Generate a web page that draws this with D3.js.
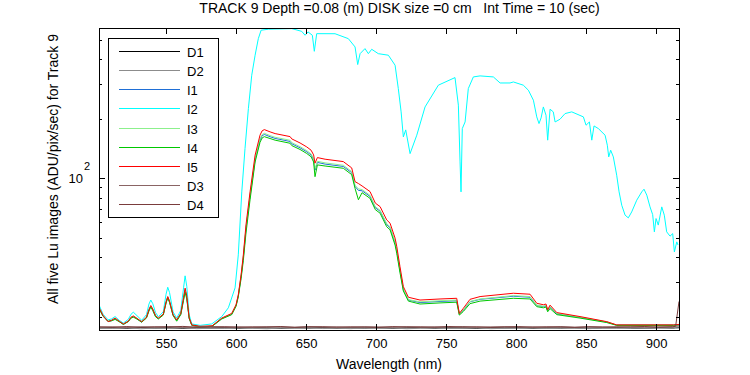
<!DOCTYPE html>
<html><head><meta charset="utf-8">
<script src="https://cdn.jsdelivr.net/npm/d3@7"></script>
<style>
html,body{margin:0;padding:0;background:#fff;}
text{font-family:"Liberation Sans",Arial,Helvetica,sans-serif;}
</style></head>
<body><svg id="c" width="750" height="375"></svg>
<script>
// ---- data ----
const wl = [502.1,505,508.6,511,513.6,516.5,519.5,523,525,526.6,528.5,532.6,536,537.8,539.1,540.5,542.5,544.5,548,550,551.2,552.5,555,557.6,560.5,562.5,563.6,564.8,566.5,568.4,574.3,582.9,589.8,596.9,600,601.6,603.6,605.2,607.1,610,613.6,617.1,618.6,620.2,624.3,627.9,638.6,639.8,645.7,650.5,653.6,655.4,656.4,658.1,663.6,676.6,682.6,685,687.4,690,695.7,699.5,702.9,707.6,710,713.6,714.8,717.1,719.5,723.1,731.4,745.7,757.6,759.5,762.4,767.1,774.3,798.1,810,814.8,819.5,821.4,822.6,824.3,829.1,845.7,864.8,871.9,912.4,916.4];
const I5 = [22.3,20.3,18.9,19.2,19.7,19.0,18.4,19.0,19.9,20.2,19.8,18.9,19.9,21.8,22.8,21.9,20.3,19.7,20.6,23.8,25.3,24.0,20.5,19.3,20.8,25.0,27.9,25.5,19.8,18.2,17.9,18.0,19.7,20.8,23.0,25.8,32.6,41.1,58.2,85.5,131,165.3,173.8,176.4,171.8,168.4,162.6,158.3,151,144.2,138.8,131.4,119.4,127.4,125,121.6,113,96.3,94.2,91.6,85.8,75.0,72.0,61.7,59.4,49.9,45.3,35.8,28.4,25.1,24.3,24.6,24.8,20.8,22.1,24.5,25.3,26.3,26.0,23.4,23.0,23.2,21.7,22.9,21.0,20.05,18.9,18.2,18.2,18.3];
const I4 = [22.0,20.1,19.0,19.1,19.4,18.9,18.3,18.9,19.7,19.9,19.6,18.8,19.7,21.4,22.4,21.5,20.0,19.5,20.4,23.4,24.9,23.6,20.3,19.0,20.5,24.2,26.6,24.6,19.6,18.1,17.8,17.9,19.5,20.5,22.6,25.2,31.2,38.5,53,78,121,152,160,162.5,159,156,150.5,146.5,140,133.6,128.6,121,102,117,115.5,112.5,104.5,89,78,84.7,79.3,69.5,66.7,57,55,46,41.8,33.4,27.0,24.0,23.2,23.5,23.7,20.4,21.3,23.3,24.0,24.8,24.6,22.5,22.2,22.4,21.2,22.0,20.5,19.7,18.7,18.1,18.1,18.2];
const I1 = [22.1,20.2,18.9,19.1,19.5,18.95,18.3,18.95,19.8,20.0,19.7,18.8,19.8,21.6,22.6,21.7,20.1,19.6,20.5,23.6,25.1,23.8,20.4,19.2,20.6,24.6,27.3,25.0,19.7,18.1,17.8,17.9,19.6,20.6,22.8,25.5,31.9,39.7,55.5,81.3,124,156,164.2,166.7,162.4,159.2,153.7,149.6,142.7,136.3,131.2,124.2,110,120.4,118.1,114.9,106.8,91,87,86.6,81.1,71,68.3,58.4,56.3,47.3,43,34.2,27.4,24.3,23.6,23.9,24.1,20.6,21.6,23.8,24.5,25.4,25.1,22.8,22.5,22.7,21.4,22.4,20.7,19.85,18.8,18.15,18.15,18.25];
const I3 = [22.2,20.25,18.9,19.15,19.6,18.95,18.35,18.95,19.85,20.1,19.75,18.85,19.85,21.7,22.7,21.8,20.2,19.65,20.55,23.7,25.2,23.9,20.45,19.25,20.7,24.8,27.5,25.2,19.75,18.15,17.85,17.95,19.65,20.7,22.9,25.6,32.2,40.2,56.3,82.4,125.5,158.4,166.5,169,164.6,161.3,155.8,151.6,144.7,138.1,133,125.9,112,122,119.8,116.5,108.3,92.3,88.5,87.8,82.2,71.9,69,59.1,57,47.8,43.4,34.4,27.6,24.4,23.8,24.1,24.3,20.6,21.7,23.9,24.6,25.6,25.3,22.9,22.6,22.8,21.5,22.5,20.8,19.9,18.85,18.15,18.15,18.25];

const wlI2 = [502.1,505,508.6,511,513.6,516.5,519.5,523,525,526.6,528.5,532.6,536,537.8,539.1,540.5,542.5,544.5,548,550,551.2,552.5,555,557.6,560.5,562.5,563.6,564.8,566.5,568.4,574.3,582.6,589.8,594.5,599.3,601.6,604.1,606.4,608.8,611.2,613.6,615.9,617.9,623.1,639.8,646.9,649.3,651.4,654.5,655.9,657.6,670.7,680.2,685,686.9,688.6,692.1,694.5,696.9,701.6,708.8,713.6,715.9,717.9,719.5,721.2,724.3,729.1,735,744.5,756.4,758.8,760,760.7,761.6,763.6,765.9,769.5,774.3,783.8,788.6,795.7,798.1,805.2,808.8,812.4,814.8,816.4,817.9,819.5,821.4,822.6,824.3,826.6,827.9,831.4,835,839.8,848.1,850,852.4,854.1,855.7,858.8,863.6,865.2,866.2,867.6,869.5,871.9,873.6,875.5,877.9,880.2,882.6,886.2,889.8,891.4,893.4,895.7,897.6,898.8,900,901.6,904.1,905.9,907.6,910,911.9,913.1,914.8,915.7];
const I2 = [22.96,20.6,19.3,19.5,20.05,19.2,18.6,19.4,20.6,21.1,20.5,19.2,20.5,23.2,24.3,23.3,21.0,20.0,21.2,26.0,28.2,26.5,21.2,19.7,21.5,28.0,32.2,28.5,20.5,18.4,18.1,18.4,20.05,22.2,28.0,41.1,85.5,141.5,225.2,332,419,508,560.4,567,571,553,528.5,549.5,528.5,438.5,538.3,538,508,461.3,375.8,426.6,452.4,426.6,449,426.6,419,373,284.2,216.8,162,175.8,133.4,165.3,229.6,295.7,323,234.4,121.1,85.5,178.5,192.8,284.2,325.5,329.4,325.5,303.4,303.4,307,295.7,279,248.3,204.5,189.2,202.1,229.6,208.5,156,223.6,216.8,192.8,199,212.5,216.8,204.5,185.6,192.8,156,184.1,178.5,165.3,147.1,128.4,138.8,128.4,103.8,85.5,73.2,65.2,63.2,67.7,77.6,85.5,88.2,82.3,71.8,65.6,53.7,62.7,58.1,71.8,65.2,53.7,51.1,52.6,42.5,47.8,46.1];

const darkWl = [502,512,522,532,542,552,562,572,582,592,602,612,622,632,642,652,662,672,682,692,702,712,722,732,742,752,762,772,782,792,802,812,822,832,842,852,862,872,882,892,902,912,914,916.4];
const D1 = [17.55,17.6,17.5,17.62,17.55,17.58,17.5,17.6,17.55,17.62,17.52,17.6,17.56,17.5,17.6,17.55,17.62,17.5,17.58,17.55,17.6,17.5,17.57,17.62,17.52,17.6,17.55,17.5,17.6,17.56,17.62,17.5,17.58,17.55,17.6,17.52,17.58,17.6,17.55,17.5,17.6,17.55,17.58,17.6];
const D2 = [17.5,17.45,17.6,17.4,17.55,17.48,17.62,17.42,17.5,17.45,17.6,17.48,17.4,17.55,17.5,17.62,17.44,17.5,17.42,17.6,17.48,17.55,17.4,17.5,17.58,17.45,17.5,17.6,17.42,17.5,17.48,17.55,17.45,17.6,17.5,17.42,17.55,17.5,17.6,17.48,17.55,17.62,17.7,17.8];
const D3 = [17.7,17.78,17.65,17.8,17.72,17.85,17.68,17.75,17.82,17.7,17.78,17.66,17.8,17.74,17.7,17.85,17.72,17.78,17.68,17.8,17.75,17.7,17.82,17.68,17.78,17.72,17.85,17.7,17.76,17.8,17.7,17.78,17.72,17.84,17.7,17.76,17.68,17.8,17.74,17.7,17.78,17.82,17.9,18.0];
const D4 = [17.8,17.72,17.85,17.7,17.8,17.75,17.88,17.7,17.78,17.82,17.72,17.8,17.76,17.86,17.7,17.78,17.82,17.72,17.8,17.75,17.7,17.84,17.76,17.8,17.72,17.86,17.74,17.8,17.7,17.78,17.84,17.72,17.8,17.76,17.7,17.82,17.78,17.74,17.8,17.86,17.72,17.8,17.9,23.9];

const seriesNames = ["D1","D2","I1","I2","I3","I4","I5","D3","D4"];
const seriesColors = ["#000000","#8c8c8c","#1f6fd6","#00ffff","#8cf08c","#00c800","#ff0000","#8a6464","#7a3c3c"];
const xTicks = [550,600,650,700,750,800,850,900];
const yMinorTicks = [20,30,40,50,60,70,80,90,200,300,400,500];
const yMajorTicks = [100];
const titleText = "TRACK 9 Depth =0.08 (m) DISK size =0 cm   Int Time = 10 (sec)";
const xLabel = "Wavelength (nm)";
const yLabel = "All five Lu images (ADU/pix/sec) for Track 9";

// ---- chart ----
const L=99, R=679, T=28, B=330;
const svg = d3.select("#c");
const x = d3.scaleLinear().domain([502.1,916.4]).range([L,R]);
const y = d3.scaleLog().domain([17.15,575]).range([B,T]);

const seriesData = {
  D1: darkWl.map((w,i)=>[w,D1[i]]),
  D2: darkWl.map((w,i)=>[w,D2[i]]),
  I1: wl.map((w,i)=>[w,I1[i]]),
  I2: wlI2.map((w,i)=>[w,I2[i]]),
  I3: wl.map((w,i)=>[w,I3[i]]),
  I4: wl.map((w,i)=>[w,I4[i]]),
  I5: wl.map((w,i)=>[w,I5[i]]),
  D3: darkWl.map((w,i)=>[w,D3[i]]),
  D4: darkWl.map((w,i)=>[w,D4[i]])
};

svg.append("defs").append("clipPath").attr("id","clip")
  .append("rect").attr("x",L).attr("y",T).attr("width",R-L).attr("height",B-T);

const line = d3.line().x(d=>x(d[0])).y(d=>y(d[1]));
const g = svg.append("g").attr("clip-path","url(#clip)");
seriesNames.forEach((n,i)=>{
  g.append("path").datum(seriesData[n]).attr("d",line)
   .attr("fill","none").attr("stroke",seriesColors[i]).attr("stroke-width",1);
});

// axes
const ax = svg.append("g").attr("shape-rendering","crispEdges");
function styleAxis(sel){ sel.select(".domain").remove(); sel.selectAll("line").attr("stroke","#000"); sel.selectAll("text").attr("fill","#000").attr("font-size",13).attr("font-family","Liberation Sans, Arial, sans-serif"); }
ax.append("g").attr("transform",`translate(0,${B})`).call(d3.axisBottom(x).tickValues(xTicks).tickSize(-6).tickPadding(9).tickFormat(d3.format("d"))).call(styleAxis);
ax.append("g").attr("transform",`translate(0,${T})`).call(d3.axisTop(x).tickValues(xTicks).tickSize(-6).tickFormat("")).call(styleAxis);
ax.append("g").attr("transform",`translate(${L},0)`).call(d3.axisLeft(y).tickValues(yMinorTicks).tickSize(-3).tickFormat("")).call(styleAxis);
ax.append("g").attr("transform",`translate(${R},0)`).call(d3.axisRight(y).tickValues(yMinorTicks).tickSize(-3).tickFormat("")).call(styleAxis);
ax.append("g").attr("transform",`translate(${L},0)`).call(d3.axisLeft(y).tickValues(yMajorTicks).tickSize(-6).tickFormat("")).call(styleAxis);
ax.append("g").attr("transform",`translate(${R},0)`).call(d3.axisRight(y).tickValues(yMajorTicks).tickSize(-6).tickFormat("")).call(styleAxis);
ax.append("rect").attr("x",L).attr("y",T).attr("width",R-L).attr("height",B-T).attr("fill","none").attr("stroke","#000");

// y major label 10^2
yMajorTicks.forEach(v=>{
  svg.append("text").attr("x",L-16).attr("y",y(v)+5).attr("text-anchor","end").attr("font-size",13).text("10");
  svg.append("text").attr("x",L-15).attr("y",y(v)-8).attr("font-size",11).text(String(Math.round(Math.log10(v))));
});

// titles
svg.append("text").attr("x",399.5).attr("y",13).attr("text-anchor","middle").attr("font-size",14)
  .style("white-space","pre").text(titleText);
svg.append("text").attr("x",(L+R)/2).attr("y",369).attr("text-anchor","middle").attr("font-size",14).text(xLabel);
svg.append("text").attr("transform","translate(58,169) rotate(-90)").attr("text-anchor","middle").attr("font-size",14).text(yLabel);

// legend
const lg = svg.append("g");
lg.append("rect").attr("x",108.5).attr("y",38.5).attr("width",110).attr("height",179)
  .attr("fill","#fff").attr("stroke","#000").attr("shape-rendering","crispEdges");
seriesNames.forEach((n,i)=>{
  const yy = Math.round(50.7 + i*19.2)+0.5;
  lg.append("line").attr("x1",119).attr("x2",180).attr("y1",yy).attr("y2",yy)
    .attr("stroke",seriesColors[i]).attr("stroke-width",1);
  lg.append("text").attr("x",187).attr("y",yy+5).attr("font-size",13).text(n);
});
</script>
</body></html>
